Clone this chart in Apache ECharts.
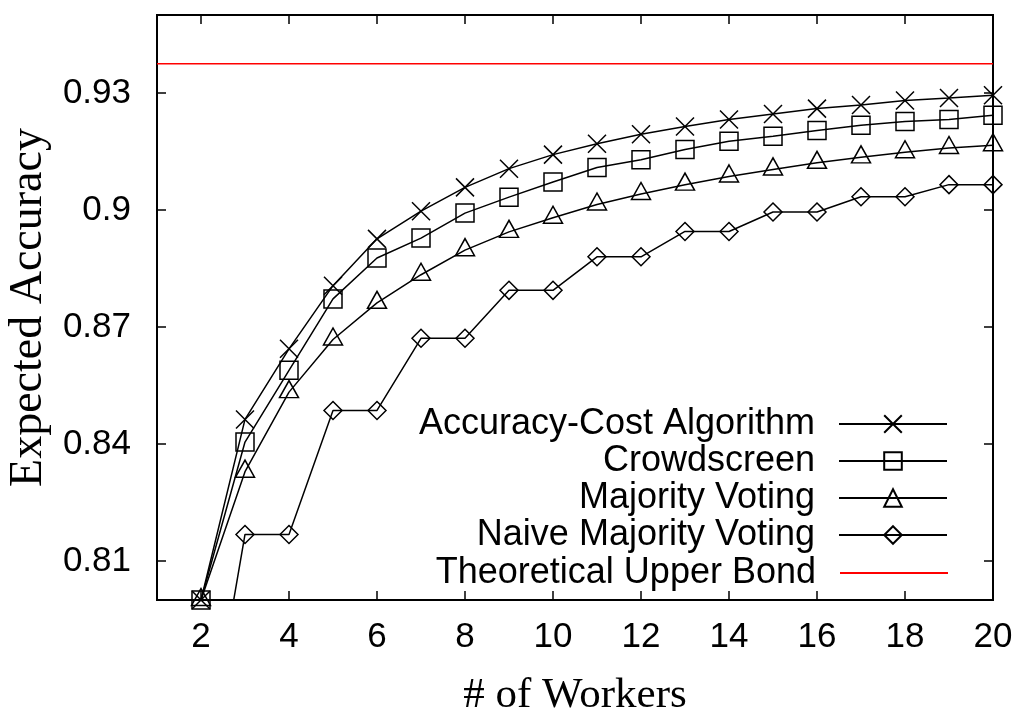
<!DOCTYPE html>
<html>
<head>
<meta charset="utf-8">
<script src="https://cdn.jsdelivr.net/npm/echarts@6/dist/echarts.min.js"></script>
<style>
  html, body { margin: 0; padding: 0; background: #fff; }
  #chart { width: 1020px; height: 709px; }
</style>
</head>
<body>
<div id="chart"></div>
<script>
// Number of workers on the x axis
const workers = [2, 3, 4, 5, 6, 7, 8, 9, 10, 11, 12, 13, 14, 15, 16, 17, 18, 19, 20];

// Expected accuracy per method
const accuracyCost = [0.800, 0.8463, 0.8644, 0.8806, 0.8926, 0.8997, 0.9058, 0.9106, 0.9142, 0.9170,
                      0.9194, 0.9214, 0.9232, 0.9246, 0.9260, 0.9269, 0.9281, 0.9287, 0.9294];
const crowdscreen  = [0.800, 0.8405, 0.8589, 0.8772, 0.8877, 0.8928, 0.8992, 0.9033, 0.9072, 0.9109,
                      0.9129, 0.9155, 0.9176, 0.9189, 0.9204, 0.9217, 0.9227, 0.9232, 0.9243];
const majority     = [0.800, 0.8329, 0.8533, 0.8668, 0.8762, 0.8834, 0.8897, 0.8944, 0.8980, 0.9014,
                      0.9041, 0.9065, 0.9086, 0.9104, 0.9121, 0.9135, 0.9148, 0.9159, 0.9166];
const naiveMajority = [0.7514, 0.8168, 0.8168, 0.8486, 0.8486, 0.8671, 0.8671, 0.8794, 0.8794, 0.8880,
                       0.8880, 0.8945, 0.8945, 0.8995, 0.8995, 0.9034, 0.9034, 0.9065, 0.9065];
const upperBound = 0.9375;
const boundSpan = [1, 20];

// Axis ranges and tick positions
const xRange = [1, 20];
const yRange = [0.8, 0.95];
const xTicks = [2, 4, 6, 8, 10, 12, 14, 16, 18, 20];
const yTicks = [0.81, 0.84, 0.87, 0.9, 0.93];

const seriesNames = ['Accuracy-Cost Algorithm', 'Crowdscreen', 'Majority Voting',
                     'Naive Majority Voting', 'Theoretical Upper Bond'];

const pairs = vals => workers.map((w, i) => [w, vals[i]]);

const SANS = '"Liberation Sans", Arial, Helvetica, sans-serif';
const SERIF = '"Liberation Serif", "Times New Roman", serif';

const markerStyle = { color: 'transparent', borderColor: '#000', borderWidth: 1.5 };
const lineStyle = { color: '#000', width: 1.5 };

function pointSeries(name, vals, symbol, size, offset) {
  return {
    name, type: 'line', data: pairs(vals),
    symbol, symbolSize: size, symbolOffset: offset || [0, 0],
    showAllSymbol: true, clip: true,
    itemStyle: markerStyle, lineStyle,
    emphasis: { disabled: true }, animation: false, z: 3
  };
}

const tickStyle = { color: '#000', width: 1.5 };

const xAxisBase = {
  type: 'value', min: xRange[0], max: xRange[1],
  axisLine: { show: false }, splitLine: { show: false },
  axisTick: { show: true, inside: true, length: 9, customValues: xTicks, lineStyle: tickStyle }
};
const yAxisBase = {
  type: 'value', min: yRange[0], max: yRange[1],
  axisLine: { show: false }, splitLine: { show: false },
  axisTick: { show: true, inside: true, length: 9, customValues: yTicks, lineStyle: tickStyle }
};

// One legend block per row so every row is right-aligned against its sample line
const rowTops = [406, 443, 480, 517, 555];
const legends = seriesNames.map((n, i) => ({
  show: true, orient: 'vertical', right: 72, top: rowTops[i], padding: 0,
  align: 'right', itemWidth: 108, itemHeight: i === 4 ? 2 : 22,
  selectedMode: false,
  data: [i === 4 ? { name: n, icon: 'rect' } : { name: n }],
  textStyle: { fontFamily: SANS, fontSize: 36, color: '#000', lineHeight: 36, padding: [0, 19, 0, 0] }
}));

const chart = echarts.init(document.getElementById('chart'), null, { renderer: 'canvas' });
chart.setOption({
  animation: false,
  backgroundColor: '#fff',
  grid: {
    left: 157, right: 27, top: 15, bottom: 109,
    outerBoundsMode: 'none', containLabel: false,
    show: true, borderColor: '#000', borderWidth: 2, backgroundColor: 'transparent'
  },
  legend: legends,
  xAxis: [
    Object.assign({}, xAxisBase, {
      position: 'bottom',
      axisLabel: { customValues: xTicks, fontFamily: SANS, fontSize: 35, color: '#000', margin: 20, lineHeight: 35 },
      name: '# of Workers', nameLocation: 'middle', nameGap: 74,
      nameTextStyle: { fontFamily: SERIF, fontSize: 43, color: '#000', lineHeight: 43 }
    }),
    Object.assign({}, xAxisBase, { position: 'top', axisLabel: { show: false } })
  ],
  yAxis: [
    Object.assign({}, yAxisBase, {
      position: 'left',
      axisLabel: { customValues: yTicks, fontFamily: SANS, fontSize: 35, color: '#000', margin: 26, formatter: v => String(v) },
      name: 'Expected Accuracy', nameLocation: 'middle', nameGap: 99, nameRotate: 90,
      nameTextStyle: { fontFamily: SERIF, fontSize: 46, color: '#000', lineHeight: 46 }
    }),
    Object.assign({}, yAxisBase, { position: 'right', axisLabel: { show: false } })
  ],
  series: [
    pointSeries(seriesNames[0], accuracyCost, 'path://M0,0L10,10M10,0L0,10', 18),
    pointSeries(seriesNames[1], crowdscreen, 'path://M0,0H10V10H0Z', 18),
    pointSeries(seriesNames[2], majority, 'path://M5,0L10,8.66L0,8.66Z', [19, 17], [0, -3]),
    pointSeries(seriesNames[3], naiveMajority, 'path://M5,0L10,5L5,10L0,5Z', 18),
    {
      name: seriesNames[4], type: 'line',
      data: boundSpan.map(x => [x, upperBound]),
      symbol: 'none', itemStyle: { color: '#ff0000' },
      lineStyle: { color: '#ff0000', width: 1.3 },
      emphasis: { disabled: true }, animation: false, z: 2
    }
  ]
});
</script>
</body>
</html>
